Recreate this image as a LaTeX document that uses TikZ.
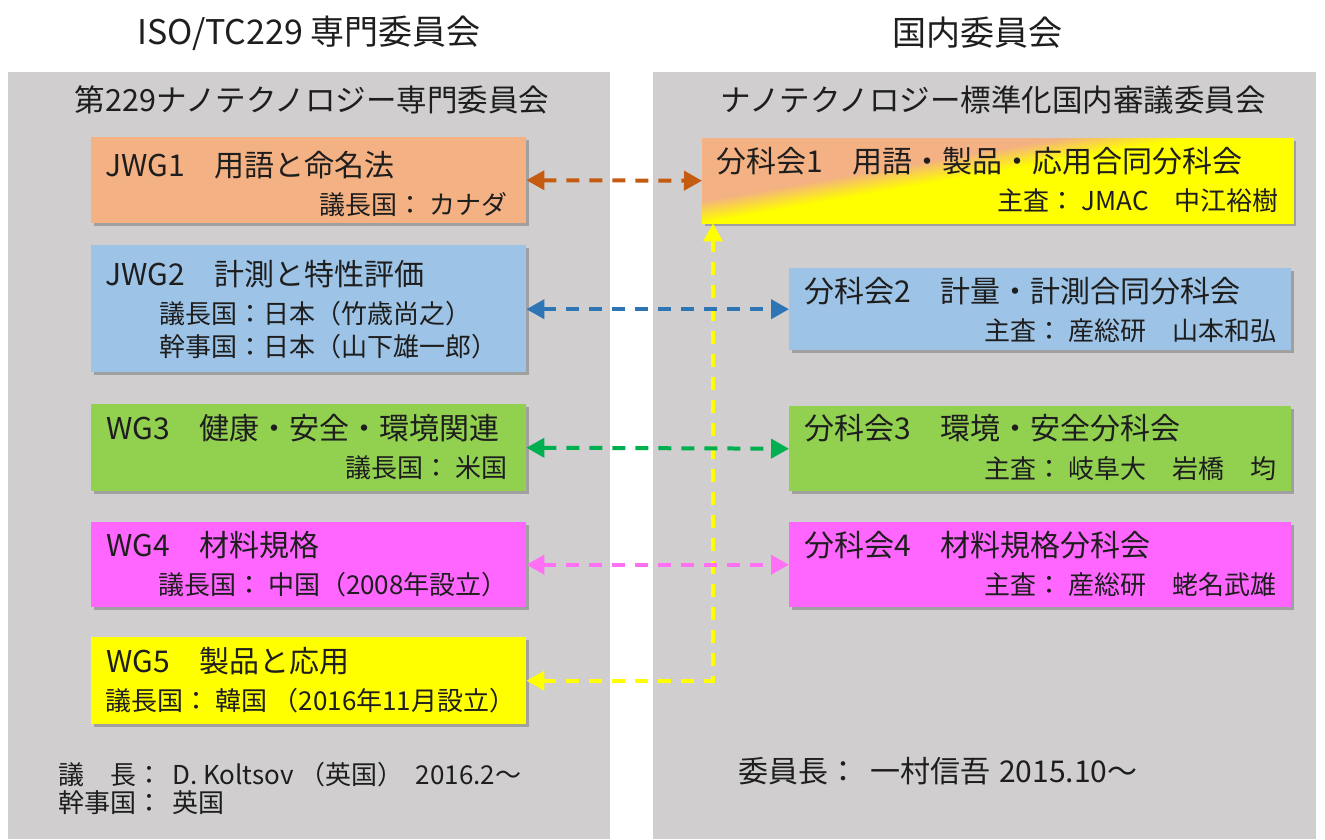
\documentclass[tikz,border=0pt]{standalone}
\usepackage{fontspec}
\setmainfont{Noto Sans CJK JP}
\usetikzlibrary{arrows.meta,shadows}
\definecolor{panelgray}{HTML}{D0CECE}
\definecolor{cOrange}{HTML}{F4B183}
\definecolor{cOrangeLine}{HTML}{C55A11}
\definecolor{cBlue}{HTML}{9DC3E6}
\definecolor{cBlueLine}{HTML}{2E75B6}
\definecolor{cGreen}{HTML}{92D050}
\definecolor{cGreenLine}{HTML}{00B050}
\definecolor{cMagenta}{HTML}{FF66FF}
\definecolor{cMagentaLine}{HTML}{FF70F5}
\definecolor{cYellow}{HTML}{FFFF00}
\definecolor{txt}{HTML}{1E1E1E}
\begin{document}
\begin{tikzpicture}[x=1pt,y=-1pt,
  panel/.style={fill=panelgray, draw=none},
  wbox/.style={anchor=north west, inner sep=0pt, draw=none,
    drop shadow={shadow xshift=3pt, shadow yshift=-3pt, opacity=0.35, fill=black!70}},
  titletxt/.style={inner sep=0pt, font=\fontsize{34}{40}\selectfont, text=txt},
  headtxt/.style={inner sep=0pt, font=\fontsize{30.5}{36}\selectfont, text=txt},
  maintxt/.style={anchor=west, inner sep=0pt, font=\fontsize{30}{36}\selectfont, text=txt},
  subtxt/.style={inner sep=0pt, font=\fontsize{26}{31}\selectfont, text=txt},
  foottxt/.style={anchor=west, inner sep=0pt, font=\fontsize{26}{31}\selectfont, text=txt},
  arr/.style={line width=4pt, dash pattern=on 13pt off 10pt, <->,
    >={Triangle[length=18pt,width=19pt]}},
]
\useasboundingbox (0,0) rectangle (1325,839);
\fill[white] (0,0) rectangle (1325,839);

% titles
\node[titletxt] (t1) at (309,33) {ISO/TC229 専門委員会};
\node[titletxt] (t2) at (977,33) {国内委員会};

% panels
\fill[panel] (8,72) rectangle (610,839);
\fill[panel] (653,72) rectangle (1316,839);

\node[headtxt] (h1) at (312,100) {第229ナノテクノロジー専門委員会};
\node[headtxt] (h2) at (993,100) {ナノテクノロジー標準化国内審議委員会};

% left boxes
\node[wbox, fill=cOrange, minimum width=435pt, minimum height=86pt] (jwg1) at (91,137) {};
\node[wbox, fill=cBlue, minimum width=435pt, minimum height=127pt] (jwg2) at (91,245) {};
\node[wbox, fill=cGreen, minimum width=435pt, minimum height=87pt] (wg3) at (91,404) {};
\node[wbox, fill=cMagenta, minimum width=435pt, minimum height=85pt] (wg4) at (91,522) {};
\node[wbox, fill=cYellow, minimum width=435pt, minimum height=87pt] (wg5) at (91,637) {};

% right boxes
\node[wbox, fill=cOrange, minimum width=591pt, minimum height=85pt] (bk1) at (702,138) {};
\begin{scope}
  \clip (bk1.north west) rectangle (bk1.south east);
  \foreach \k in {0,...,30} {
    \pgfmathsetmacro{\s}{-11+\k*22/30}
    \pgfmathsetmacro{\p}{\k*100/30}
    \fill[cYellow!\p!cOrange]
      ({913+\s*0.1722-900*0.985},{175+\s*0.985+900*0.1722}) --
      ({913+\s*0.1722+900*0.985},{175+\s*0.985-900*0.1722}) --
      ({913+300*0.1722+900*0.985},{175+300*0.985-900*0.1722}) --
      ({913+300*0.1722-900*0.985},{175+300*0.985+900*0.1722}) -- cycle;
  }
\end{scope}
\node[wbox, fill=cBlue, minimum width=502pt, minimum height=82pt] (bk2) at (789,268) {};
\node[wbox, fill=cGreen, minimum width=502pt, minimum height=85pt] (bk3) at (789,406) {};
\node[wbox, fill=cMagenta, minimum width=502pt, minimum height=85pt] (bk4) at (789,522) {};

% left texts
\node[maintxt] (jwg1a) at (105,165) {JWG1　用語と命名法};
\node[subtxt, anchor=east] (jwg1b) at (508,205) {議長国： カナダ};
\node[maintxt] (jwg2a) at (105,274) {JWG2　計測と特性評価};
\node[subtxt, anchor=west] (jwg2b) at (159,314) {議長国：日本（竹歳尚之）};
\node[subtxt, anchor=west] (jwg2c) at (159,347) {幹事国：日本（山下雄一郎）};
\node[maintxt] (wg3a) at (106,428) {WG3　健康・安全・環境関連};
\node[subtxt, anchor=east] (wg3b) at (508,468) {議長国： 米国};
\node[maintxt] (wg4a) at (106,545) {WG4　材料規格};
\node[subtxt, anchor=west] (wg4b) at (158,585) {議長国： 中国（2008年設立）};
\node[maintxt] (wg5a) at (106,661) {WG5　製品と応用};
\node[subtxt, anchor=west] (wg5b) at (105,701) {議長国： 韓国 （2016年11月設立）};

% right texts
\node[maintxt] (bk1a) at (716,161) {分科会1　用語・製品・応用合同分科会};
\node[subtxt, anchor=east] (bk1b) at (1279,201) {主査： JMAC　中江裕樹};
\node[maintxt] (bk2a) at (804,291) {分科会2　計量・計測合同分科会};
\node[subtxt, anchor=east] (bk2b) at (1277,331) {主査： 産総研　山本和弘};
\node[maintxt] (bk3a) at (804,428) {分科会3　環境・安全分科会};
\node[subtxt, anchor=east] (bk3b) at (1277,469) {主査： 岐阜大　岩橋　均};
\node[maintxt] (bk4a) at (804,545) {分科会4　材料規格分科会};
\node[subtxt, anchor=east] (bk4b) at (1277,585) {主査： 産総研　蛯名武雄};

% footers
\node[foottxt] (f1) at (58,775) {議　長：\hspace{10pt}D. Koltsov\hspace{6pt}（英国）\hspace{12pt}2016.2～};
\node[foottxt] (f2) at (58,803) {幹事国：\hspace{10pt}英国};
\node[foottxt, font=\fontsize{30}{36}\selectfont] (f3) at (738,771) {委員長：\hspace{12pt}一村信吾\hspace{9pt}2015.10～};

% connectors
\coordinate (yc) at (713,0);
\draw[arr, cYellow] (wg5.east) -- (wg5.east -| yc) -- (bk1.south -| yc);
\draw[arr, cOrangeLine] (jwg1.east) -- (bk1.west);
\draw[arr, cBlueLine] (jwg2.east |- bk2.west) -- (bk2.west);
\draw[arr, cGreenLine] (wg3.east) -- (bk3.west);
\draw[arr, cMagentaLine] (wg4.east) -- (bk4.west);
\end{tikzpicture}
\end{document}
